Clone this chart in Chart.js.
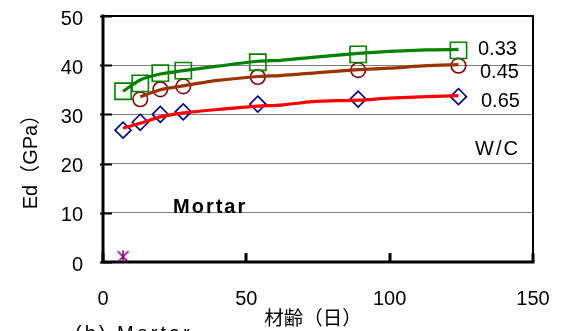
<!DOCTYPE html>
<html>
<head>
<meta charset="utf-8">
<script src="https://cdn.jsdelivr.net/npm/chart.js@4"></script>
<style>
  html, body { margin: 0; padding: 0; background: #fff; overflow: hidden; }
  canvas { display: block; }
</style>
</head>
<body>
<canvas id="chart" width="561" height="331"></canvas>
<script>
// Dynamic modulus Ed of mortar versus age, for three W/C ratios

// Measured points
const agesMain = [7, 13, 20, 28, 54, 89, 124];
const ages045 = [13, 20, 28, 54, 89, 124];
const ed033 = [34.7, 36.3, 38.4, 38.9, 40.6, 42.2, 43.0];
const ed045 = [33.1, 35.1, 35.7, 37.6, 39.0, 39.9];
const ed065 = [26.8, 28.4, 30.0, 30.5, 32.1, 33.1, 33.6];
const agesEarly = [7];
const edEarly = [1.1];

// Fitted trend curves
const fitAges033 = [7, 13, 20, 28, 40, 54, 62, 73, 89, 100, 113, 124];
const fit033 = [34.7, 37.0, 38.2, 38.9, 39.8, 40.8, 41.0, 41.6, 42.4, 42.8, 43.1, 43.2];
const fitAges045 = [13, 20, 28, 40, 54, 62, 75, 89, 100, 113, 124];
const fit045 = [33.6, 35.0, 35.8, 36.9, 37.7, 37.9, 38.5, 39.1, 39.4, 39.9, 40.1];
const fitAges065 = [7, 13, 20, 28, 40, 54, 62, 73, 89, 100, 113, 124];
const fit065 = [27.2, 28.2, 29.5, 30.3, 31.0, 31.7, 31.9, 32.6, 32.9, 33.3, 33.6, 33.8];

// Axis ticks
const xTicks = [0, 50, 100, 150];
const yTicks = [0, 10, 20, 30, 40, 50];

const seriesLabels = ['0.33', '0.45', '0.65'];

const pts = (xs, ys) => xs.map((x, i) => ({ x: x, y: ys[i] }));

const LATIN = "'Liberation Sans', Arial, sans-serif";
const JP = "'Noto Sans CJK JP', sans-serif";

// Asterisk marker (vertical bar plus a cross)
function asterisk(color) {
  const c = document.createElement('canvas');
  c.width = 14; c.height = 14;
  const g = c.getContext('2d');
  g.strokeStyle = color;
  g.lineWidth = 1.6;
  g.beginPath();
  g.moveTo(7, 0.5); g.lineTo(7, 13.5);
  g.moveTo(1.5, 1.5); g.lineTo(12.5, 12.5);
  g.moveTo(12.5, 1.5); g.lineTo(1.5, 12.5);
  g.stroke();
  return c;
}

// Plot frame with inward tick marks
const framePlugin = {
  id: 'frame',
  beforeDatasetsDraw(chart) {
    const { ctx, chartArea: a, scales: { x, y } } = chart;
    ctx.save();
    ctx.strokeStyle = '#000';
    ctx.lineCap = 'square';
    ctx.lineWidth = 2;
    ctx.beginPath();
    ctx.moveTo(a.left, a.top); ctx.lineTo(a.right, a.top); ctx.lineTo(a.right, a.bottom);
    ctx.stroke();
    ctx.lineWidth = 3;
    ctx.beginPath();
    ctx.moveTo(a.left, a.top); ctx.lineTo(a.left, a.bottom); ctx.lineTo(a.right, a.bottom);
    ctx.stroke();
    ctx.lineWidth = 2;
    ctx.lineCap = 'butt';
    yTicks.forEach(v => {
      const py = Math.round(y.getPixelForValue(v)) + 0.5;
      ctx.beginPath(); ctx.moveTo(a.left - 3, py); ctx.lineTo(a.left + 9, py); ctx.stroke();
    });
    ctx.lineWidth = 3;
    xTicks.forEach(v => {
      const px = Math.round(x.getPixelForValue(v));
      ctx.beginPath(); ctx.moveTo(px, a.bottom); ctx.lineTo(px, a.bottom - 9); ctx.stroke();
    });
    ctx.restore();
  }
};

// Titles and in-plot annotations
const textPlugin = {
  id: 'texts',
  afterDatasetsDraw(chart) {
    const { ctx } = chart;
    ctx.save();
    ctx.fillStyle = '#000';
    ctx.textBaseline = 'alphabetic';
    ctx.textAlign = 'left';

    ctx.font = '20px ' + LATIN;
    ctx.letterSpacing = '0px';
    ctx.fillText(seriesLabels[0], 478, 55);
    ctx.fillText(seriesLabels[1], 480, 78);
    ctx.fillText(seriesLabels[2], 481, 107);
    ctx.letterSpacing = '2px';
    ctx.fillText('W/C', 475, 155);

    ctx.font = 'bold 20px ' + LATIN;
    ctx.letterSpacing = '2px';
    ctx.fillText('Mortar', 173, 213);

    ctx.font = '20px ' + LATIN;
    ctx.letterSpacing = '3px';
    ctx.fillText('(b) Mortar', 75, 340);

    ctx.letterSpacing = '0px';
    ctx.font = '19.5px ' + JP;
    ctx.textAlign = 'center';
    ctx.textBaseline = 'middle';
    ctx.fillText('材齢（日）', 313, 318);

    ctx.translate(31, 157);
    ctx.rotate(-Math.PI / 2);
    ctx.font = "20px 'Liberation Sans', 'Noto Sans CJK JP', sans-serif";
    ctx.fillText('Ed（GPa）', 0, 0);
    ctx.restore();
  }
};

const lineStyle = (color) => ({
  showLine: true, borderColor: color, borderWidth: 3.2, pointRadius: 0,
  tension: 0.25, fill: false, order: 0, cubicInterpolationMode: 'default'
});
const markStyle = (color, shape, r) => ({
  showLine: false, pointStyle: shape, pointRadius: r, pointBorderColor: color,
  pointBackgroundColor: 'rgba(0,0,0,0)', pointBorderWidth: 1.6, order: 1
});

new Chart(document.getElementById('chart'), {
  type: 'scatter',
  data: {
    datasets: [
      Object.assign({ label: 'fit 0.33', data: pts(fitAges033, fit033) }, lineStyle('#008000')),
      Object.assign({ label: 'fit 0.45', data: pts(fitAges045, fit045) }, lineStyle('#993300')),
      Object.assign({ label: 'fit 0.65', data: pts(fitAges065, fit065) }, lineStyle('#ff0000')),
      Object.assign({ label: seriesLabels[0], data: pts(agesMain, ed033) }, markStyle('#008000', 'rect', 11.5)),
      Object.assign({ label: seriesLabels[1], data: pts(ages045, ed045) }, markStyle('#800000', 'circle', 7.3)),
      Object.assign({ label: seriesLabels[2], data: pts(agesMain, ed065) }, markStyle('#000080', 'rectRot', 8)),
      { label: 'early', data: pts(agesEarly, edEarly), showLine: false, pointStyle: asterisk('#800080'),
        pointRadius: 7, order: 1 }
    ]
  },
  options: {
    responsive: false,
    animation: false,
    devicePixelRatio: 1,
    layout: { padding: { top: 16, right: 28, left: 0, bottom: 0 } },
    plugins: { legend: { display: false }, tooltip: { enabled: false } },
    scales: {
      x: {
        type: 'linear', min: 0, max: 150,
        afterBuildTicks: (s) => { s.ticks = xTicks.map(v => ({ value: v })); },
        afterFit: (s) => { s.height = 69; s.paddingLeft = 0; s.paddingRight = 0; },
        ticks: { color: '#000', font: { size: 20, family: LATIN }, padding: 25, maxRotation: 0 },
        grid: { display: false, drawTicks: false },
        border: { display: false }
      },
      y: {
        type: 'linear', min: 0, max: 50,
        afterBuildTicks: (s) => { s.ticks = yTicks.map(v => ({ value: v })); },
        afterFit: (s) => { s.width = 103; s.paddingTop = 0; s.paddingBottom = 0; },
        ticks: { color: '#000', font: { size: 20, family: LATIN }, padding: 20, labelOffset: 3 },
        grid: { color: '#7f7f7f', lineWidth: 1, drawTicks: false },
        border: { display: false }
      }
    }
  },
  plugins: [framePlugin, textPlugin]
});
</script>
</body>
</html>
